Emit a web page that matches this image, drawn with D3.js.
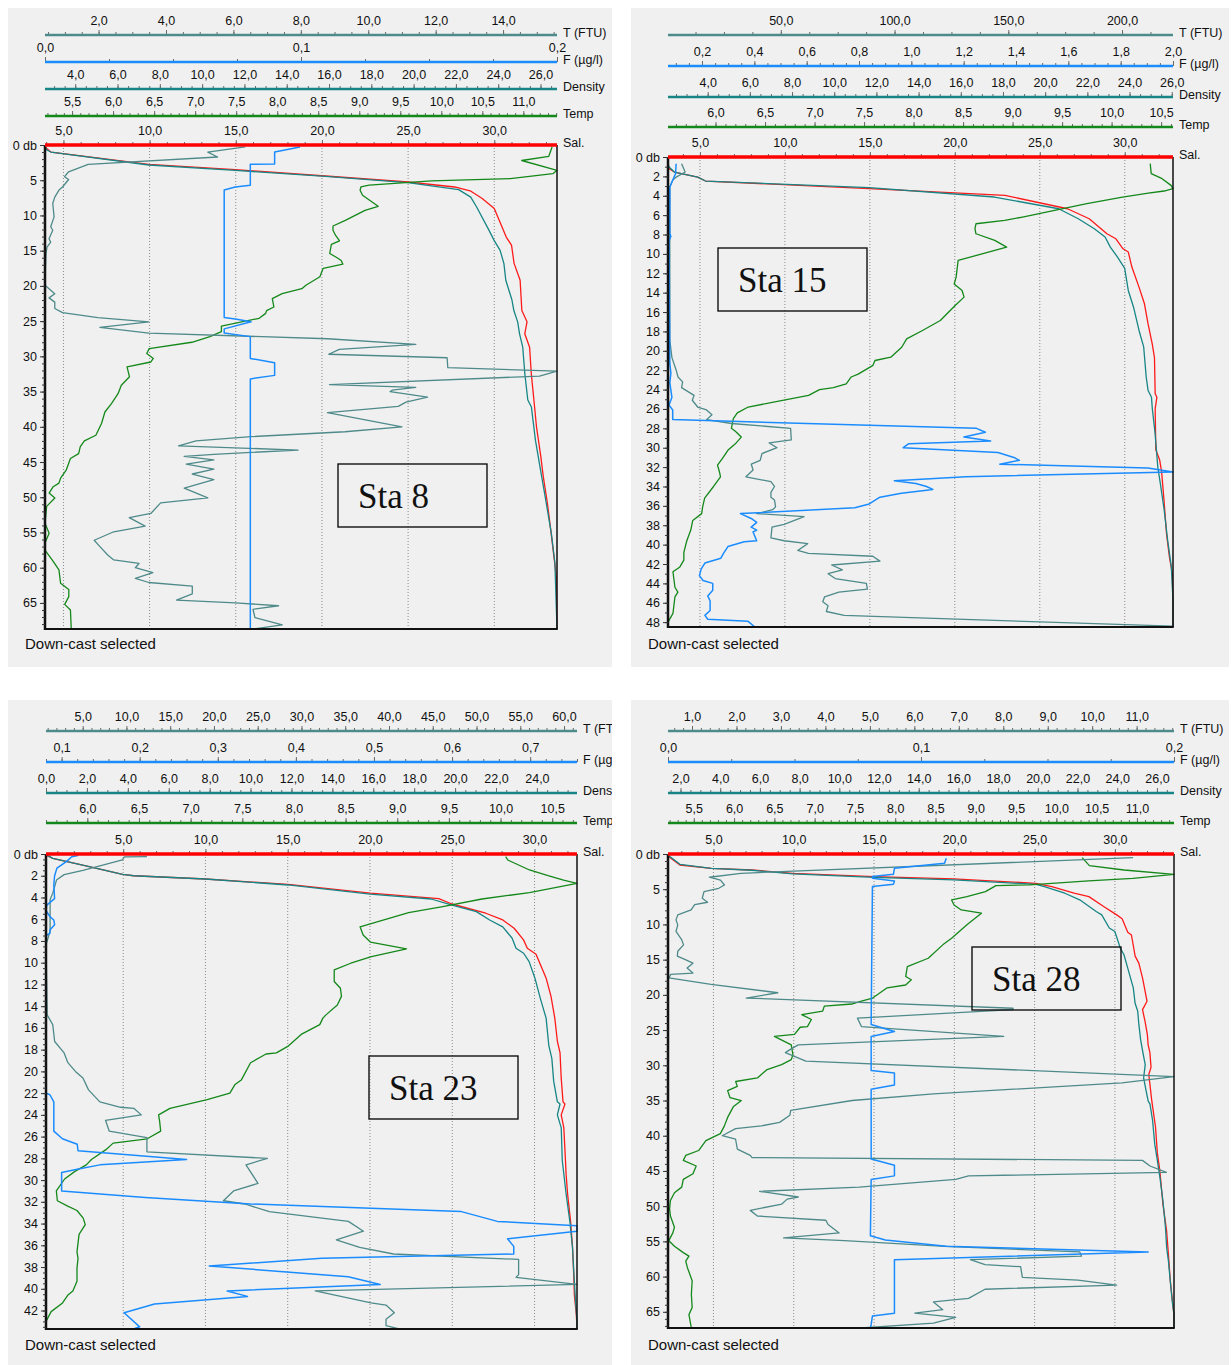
<!DOCTYPE html>
<html><head><meta charset="utf-8">
<script src="https://cdn.jsdelivr.net/npm/d3@7"></script>
<style>
body{margin:0;background:#fff;}
svg{display:block;font-family:"Liberation Sans",Arial,sans-serif;}
</style>
</head><body>
<svg id="chart" width="1231" height="1365"></svg>
<script>
// ---------------- DATA ----------------
const stations = ["Sta 8", "Sta 15", "Sta 23", "Sta 28"];
const axisNames = ["T (FTU)", "F (µg/l)", "Density", "Temp", "Sal."];
const footerText = "Down-cast selected";

// axis ranges per station: [min, max, label step, minor step] for T, F, Density, Temp, Sal
const sta8Axes  = [[0.41,15.6,2,0.5],[0,0.2,0.1,0.025],[2.57,26.78,2,0.5],[5.17,11.41,0.5,0.1],[3.93,33.64,5,1]];
const sta15Axes = [[0.4,222.4,50,12.5],[0.07,2.0,0.2,0.05],[2.12,26.06,2,0.5],[5.52,10.62,0.5,0.1],[3.12,32.84,5,1]];
const sta23Axes = [[0.81,61.48,5,1],[0.08,0.76,0.1,0.02],[0,25.96,2,0.5],[5.60,10.74,0.5,0.1],[0.31,32.58,5,1]];
const sta28Axes = [[0.46,11.84,1,0.2],[0,0.2,0.1,0.025],[1.37,26.86,2,0.5],[5.18,11.46,0.5,0.1],[2.17,33.68,5,1]];
// depth axis: [max depth (db), label step, minor step]
const sta8Depth  = [68.7, 5, 1];
const sta15Depth = [48.5, 2, 1];
const sta23Depth = [43.7, 2, 0.5];
const sta28Depth = [67.3, 5, 1];

// profiles: [depth db, value]
const sta8Sal = [[0.3,3.95],[1.0,4.27],[2.74,9.96],[3.5,14.98],[4.4,20.2],[5.25,25.0],[5.96,27.7],[6.5,28.6],[7.6,29.3],[9.0,30.0],[13.1,30.7],[14.2,31.0],[16.8,31.15],[19.2,31.5],[23.5,31.6],[25.1,31.9],[26.8,31.77],[28.7,32.05],[32.5,32.15],[36.2,32.3],[40.0,32.45],[44.2,32.7],[47.0,32.84],[50.8,33.08],[55.1,33.3],[58.4,33.46],[61.2,33.6],[68.7,33.64]];
const sta8Dens = [[0.3,2.6],[0.66,2.63],[1.0,2.85],[2.84,7.48],[3.6,11.57],[4.45,15.84],[5.35,19.73],[6.34,22.13],[7.4,22.7],[8.8,22.98],[11.9,23.53],[13.5,23.8],[14.95,24.09],[16.84,24.27],[19.2,24.36],[22.0,24.65],[23.5,24.74],[25.1,24.92],[26.8,25.01],[28.7,25.16],[32.5,25.26],[36.2,25.4],[37.2,25.57],[41.9,25.76],[46.1,26.0],[49.9,26.22],[55.1,26.51],[59.3,26.68],[68.7,26.78]];
const sta8Temp = [[0.28,11.35],[1.6,11.31],[2.2,10.98],[3.6,11.41],[4.07,11.36],[4.78,10.84],[5.1,9.88],[5.7,9.12],[5.96,9.02],[6.43,9.01],[7.14,9.04],[8.7,9.23],[9.27,9.07],[10.7,8.83],[11.5,8.68],[12.1,8.68],[12.8,8.71],[13.6,8.76],[14.1,8.66],[15.4,8.64],[16.0,8.73],[16.4,8.78],[16.9,8.80],[17.5,8.56],[18.7,8.52],[19.9,8.35],[20.4,8.30],[21.1,8.06],[21.8,7.94],[23.0,7.96],[23.5,7.87],[23.9,7.86],[24.6,7.78],[25.7,7.32],[26.5,7.32],[27.2,7.18],[28.0,6.96],[28.9,6.44],[29.6,6.41],[30.3,6.49],[30.8,6.46],[31.5,6.17],[32.9,6.20],[34.1,6.10],[35.3,6.06],[36.7,5.98],[37.9,5.90],[39.5,5.86],[41.2,5.79],[42.0,5.65],[42.8,5.60],[43.8,5.58],[44.5,5.48],[46.1,5.43],[47.3,5.36],[48.0,5.34],[48.5,5.27],[49.4,5.22],[50.1,5.29],[51.3,5.19],[53.7,5.17],[55.1,5.22],[56.5,5.17],[57.5,5.17],[59.1,5.27],[60.3,5.34],[62.2,5.36],[63.1,5.46],[64.1,5.46],[65.2,5.41],[66.0,5.48],[68.7,5.49]];
const sta8Fluo = [[0.28,0.0996],[1.0,0.0897],[2.7,0.0897],[2.75,0.0802],[5.7,0.0802],[5.96,0.0743],[6.4,0.070],[24.5,0.070],[24.7,0.0743],[25.1,0.0805],[26.1,0.070],[26.7,0.070],[27.2,0.0802],[30.3,0.0802],[30.9,0.0897],[32.7,0.0897],[33.2,0.0802],[68.7,0.0802]];
const sta8Turb = [[0.28,6.35],[1.0,5.24],[1.7,5.53],[2.74,1.69],[3.8,1.11],[4.5,0.99],[4.9,1.11],[5.96,0.93],[6.43,0.82],[7.4,0.70],[8.3,0.64],[10.2,0.68],[11.6,0.58],[12.1,0.64],[13.3,0.53],[13.8,0.58],[14.5,0.47],[15.4,0.44],[19.2,0.41],[19.9,0.41],[20.4,0.53],[21.1,0.70],[21.7,0.53],[22.3,0.70],[23.2,0.70],[23.8,0.93],[24.5,1.98],[25.1,3.49],[25.9,2.04],[26.7,3.49],[27.5,8.79],[28.3,11.41],[29.0,9.14],[29.7,8.83],[30.2,12.34],[31.6,12.36],[32.1,15.6],[32.8,15.08],[34.0,8.85],[34.4,11.41],[34.8,10.71],[35.0,10.65],[35.8,11.76],[36.5,11.12],[37.1,10.89],[38.0,8.79],[40.0,11.0],[40.7,9.31],[41.4,6.52],[42.0,4.89],[42.7,4.37],[43.3,7.92],[43.9,5.42],[44.2,4.54],[44.7,5.42],[45.3,4.60],[46.0,5.42],[46.7,4.78],[47.5,5.42],[48.7,4.54],[50.1,5.24],[50.8,3.84],[52.3,3.55],[52.9,2.91],[54.1,3.38],[54.9,2.45],[56.1,1.87],[57.0,2.04],[58.2,2.27],[58.9,2.45],[59.4,3.20],[60.0,3.09],[60.7,3.61],[61.5,3.09],[62.1,3.49],[62.6,4.78],[63.7,4.78],[64.6,4.31],[65.0,6.06],[65.4,7.34],[65.9,6.58],[67.1,6.64],[68.1,7.45],[68.7,6.58]];

const sta15Sal = [[0.9,3.15],[1.2,3.18],[1.55,3.50],[2.07,4.86],[2.48,5.33],[3.27,14.96],[3.96,22.95],[5.34,26.63],[6.37,27.91],[7.92,28.95],[8.44,29.48],[9.47,29.90],[9.81,30.21],[11.36,30.42],[13.43,30.84],[15.15,31.16],[17.2,31.37],[19.3,31.62],[20.7,31.75],[24.4,31.79],[24.8,31.89],[26.0,31.79],[30.2,31.83],[31.3,32.06],[32.5,32.17],[35.4,32.31],[38.9,32.46],[41.3,32.63],[43.0,32.80],[45.8,32.84],[48.5,32.84]];
const sta15Dens = [[0.9,2.15],[1.03,2.17],[1.55,2.42],[2.07,3.53],[2.48,3.90],[3.17,11.65],[4.13,17.59],[5.34,20.64],[6.37,21.57],[7.4,22.33],[8.26,22.84],[9.3,23.09],[10.33,23.43],[11.5,23.77],[13.77,23.94],[15.5,24.19],[17.9,24.45],[19.6,24.67],[22.7,24.79],[24.1,24.88],[24.8,25.04],[26.0,25.08],[28.5,25.21],[32.0,25.34],[33.7,25.46],[36.4,25.64],[39.6,25.81],[42.3,25.98],[45.8,26.06],[48.5,26.06]];
const sta15Temp = [[0.69,10.39],[1.72,10.40],[2.24,10.51],[2.93,10.60],[3.27,10.62],[3.51,10.53],[3.72,10.37],[4.13,10.11],[4.82,9.75],[5.44,9.46],[6.2,9.10],[6.54,8.92],[6.89,8.63],[7.4,8.62],[7.92,8.63],[8.6,8.82],[9.3,8.94],[9.64,8.82],[10.67,8.45],[12.4,8.43],[13.1,8.41],[13.77,8.49],[14.46,8.51],[15.32,8.42],[16.87,8.27],[17.9,8.09],[18.77,7.93],[19.63,7.88],[20.66,7.77],[21.0,7.61],[21.5,7.59],[22.4,7.44],[22.7,7.37],[23.4,7.32],[23.8,7.19],[24.0,7.05],[24.6,6.94],[25.1,6.69],[25.8,6.33],[26.4,6.22],[27.0,6.18],[28.0,6.16],[28.3,6.20],[28.9,6.26],[29.6,6.20],[30.2,6.13],[31.1,6.07],[31.8,6.02],[32.5,6.04],[33.0,6.05],[34.0,5.98],[35.2,5.89],[36.1,5.87],[36.8,5.86],[37.5,5.77],[38.5,5.75],[39.6,5.71],[40.8,5.68],[41.6,5.68],[42.3,5.64],[42.8,5.57],[44.4,5.59],[44.9,5.62],[45.4,5.59],[47.1,5.57],[48.0,5.52],[48.5,5.52]];
const sta15Fluo = [[0.69,0.101],[1.72,0.099],[2.4,0.088],[3.1,0.077],[7.9,0.077],[8.2,0.081],[8.6,0.074],[21.3,0.077],[22.3,0.081],[23.3,0.077],[24.8,0.085],[25.6,0.074],[26.1,0.088],[27.1,0.088],[28.0,1.249],[28.4,1.283],[28.9,1.201],[29.3,1.303],[29.6,0.989],[30.0,0.969],[30.5,1.331],[31.0,1.392],[31.3,1.413],[31.7,1.338],[32.1,1.904],[32.5,2.0],[33.0,1.208],[33.4,0.935],[33.7,1.017],[34.0,1.058],[34.3,1.082],[34.7,0.962],[35.1,0.880],[35.8,0.839],[36.2,0.784],[36.8,0.347],[37.3,0.388],[37.7,0.409],[38.2,0.388],[38.5,0.409],[38.7,0.395],[39.6,0.409],[39.7,0.361],[40.2,0.299],[40.9,0.282],[41.4,0.272],[41.9,0.211],[42.5,0.197],[43.2,0.190],[43.7,0.204],[44.0,0.241],[44.7,0.241],[45.3,0.222],[45.8,0.231],[46.8,0.231],[47.3,0.211],[47.7,0.222],[47.9,0.375],[48.5,0.402]];
const sta15Turb = [[0.69,6.37],[1.55,7.94],[2.07,4.01],[2.4,2.44],[3.1,1.19],[18.9,1.19],[20.7,2.13],[22.0,4.01],[22.7,4.80],[23.2,6.84],[23.8,6.37],[24.6,11.87],[25.1,11.08],[25.8,13.44],[26.1,17.37],[26.6,19.72],[27.1,17.37],[27.5,28.37],[28.0,54.29],[29.2,54.60],[29.5,44.86],[30.0,48.32],[30.6,41.72],[31.3,40.93],[31.7,37.01],[32.3,37.79],[33.0,34.65],[33.5,45.65],[34.0,47.22],[34.6,45.65],[35.1,45.65],[35.4,47.22],[36.1,47.69],[36.4,46.43],[36.8,39.36],[37.1,60.26],[37.9,51.46],[38.2,46.12],[39.3,45.65],[39.6,51.46],[39.9,61.83],[40.6,57.43],[40.9,62.14],[41.2,90.42],[41.7,93.57],[42.1,72.36],[42.6,77.07],[43.0,70.79],[43.5,73.93],[44.0,87.60],[44.6,88.07],[44.9,75.50],[45.4,69.21],[45.9,68.43],[46.3,70.79],[46.9,70.00],[47.3,77.86],[47.8,140.7],[48.4,222.4],[48.5,222.4]];

const sta23Sal = [[0.15,0.38],[0.4,0.72],[1.07,2.67],[1.87,4.96],[2.0,5.64],[2.3,9.99],[2.8,15.03],[3.6,20.02],[4.1,24.18],[4.6,24.98],[5.45,27.04],[6.07,28.07],[6.83,28.76],[7.9,29.33],[8.67,29.56],[9.22,30.09],[10.2,30.36],[11.4,30.70],[13.1,31.00],[15.1,31.23],[17.25,31.39],[18.3,31.55],[20.6,31.62],[22.8,31.73],[23.0,31.85],[24.0,31.62],[25.2,31.78],[27.3,31.85],[29.5,31.92],[31.3,32.01],[33.8,32.19],[36.2,32.31],[38.7,32.38],[40.6,32.42],[42.4,32.54],[43.7,32.58]];
const sta23Dens = [[0.1,0.055],[0.4,0.33],[1.07,1.90],[1.87,3.74],[2.0,4.29],[2.3,7.79],[2.85,11.84],[3.7,15.85],[4.14,18.83],[4.7,19.85],[5.3,21.04],[6.07,21.69],[6.7,22.33],[7.75,22.79],[8.67,22.98],[9.13,23.35],[9.9,23.62],[11.4,23.90],[13.3,24.17],[15.1,24.45],[17.6,24.58],[18.8,24.73],[20.9,24.82],[22.8,25.00],[23.0,25.13],[24.0,25.00],[25.2,25.19],[28.2,25.24],[31.3,25.43],[33.8,25.61],[36.2,25.74],[39.3,25.83],[41.2,25.89],[43.0,25.96],[43.7,25.96]];
const sta23Temp = [[0.25,10.05],[0.55,10.07],[1.47,10.28],[2.0,10.46],[2.4,10.61],[2.7,10.74],[3.55,10.28],[4.14,9.82],[4.84,9.44],[5.4,9.11],[6.7,8.64],[7.45,8.67],[8.1,8.74],[8.73,9.09],[9.44,8.75],[10.05,8.55],[10.66,8.39],[11.73,8.39],[12.35,8.45],[13.1,8.46],[13.9,8.42],[14.8,8.31],[15.1,8.28],[15.7,8.25],[16.6,8.07],[17.7,7.94],[18.3,7.83],[18.4,7.73],[19.2,7.58],[20.8,7.49],[21.2,7.43],[22.0,7.38],[22.6,7.16],[23.4,6.80],[24.0,6.69],[24.6,6.70],[25.5,6.71],[26.2,6.58],[26.6,6.25],[27.2,6.18],[28.1,6.04],[28.6,5.99],[29.2,5.88],[29.9,5.78],[31.0,5.70],[31.9,5.71],[32.4,5.81],[32.8,5.90],[33.5,5.96],[34.1,5.98],[35.0,5.92],[36.6,5.90],[37.2,5.91],[38.1,5.90],[39.3,5.90],[40.2,5.86],[40.6,5.81],[41.3,5.76],[42.1,5.65],[43.0,5.60],[43.7,5.60]];
const sta23Fluo = [[0.15,0.121],[0.25,0.113],[0.7,0.106],[1.3,0.094],[2.0,0.091],[2.85,0.090],[4.1,0.091],[4.7,0.081],[5.2,0.080],[5.76,0.085],[6.07,0.090],[6.5,0.091],[7.0,0.085],[7.3,0.085],[7.5,0.080],[22.0,0.080],[22.15,0.085],[22.8,0.090],[25.5,0.090],[26.2,0.101],[26.7,0.120],[27.3,0.121],[27.6,0.173],[28.1,0.260],[28.6,0.149],[29.0,0.120],[29.3,0.100],[31.0,0.100],[31.6,0.207],[32.2,0.342],[32.6,0.496],[32.9,0.612],[33.8,0.658],[34.2,0.760],[34.7,0.760],[35.4,0.671],[36.1,0.679],[36.8,0.679],[37.2,0.433],[37.9,0.289],[38.9,0.467],[39.6,0.508],[40.2,0.312],[40.7,0.338],[41.4,0.219],[42.2,0.180],[43.5,0.200],[43.7,0.192]];
const sta23Turb = [[0.25,12.34],[0.26,9.76],[0.55,9.54],[1.5,5.03],[1.9,2.88],[2.4,2.01],[3.0,1.80],[3.6,1.58],[4.2,1.28],[7.1,1.28],[8.0,0.94],[8.3,0.81],[14.8,0.94],[15.7,1.58],[17.25,1.80],[18.3,2.88],[19.2,3.31],[20.0,4.17],[20.6,5.03],[21.7,5.67],[22.8,6.96],[23.3,9.33],[23.4,10.84],[24.0,11.70],[24.5,7.61],[25.5,8.04],[26.1,12.34],[27.4,12.34],[28.0,26.11],[28.6,23.66],[30.3,25.03],[31.0,22.24],[31.9,21.08],[32.2,23.53],[32.9,26.33],[33.8,35.36],[34.7,37.08],[35.5,33.98],[36.2,36.65],[36.8,40.52],[37.3,54.81],[38.7,54.81],[38.95,54.51],[39.6,61.48],[40.2,31.57],[41.3,37.94],[41.5,39.66],[42.2,40.61],[42.8,39.66],[43.4,39.66],[43.7,41.17]];

const sta28Sal = [[0.38,2.22],[1.56,2.91],[2.03,4.87],[2.27,7.40],[2.74,9.94],[3.2,15.01],[3.54,19.96],[4.16,25.08],[4.63,26.07],[5.57,27.46],[6.05,28.38],[7.46,29.30],[8.64,30.11],[9.2,30.45],[11.1,30.80],[11.5,31.03],[14.5,31.26],[15.5,31.49],[17.6,31.72],[19.0,31.84],[20.9,32.00],[22.1,31.72],[23.8,31.88],[25.6,32.02],[27.1,32.07],[28.2,32.18],[30.3,32.25],[31.3,32.11],[32.7,32.18],[35.1,32.30],[38.8,32.53],[42.4,32.64],[45.0,32.80],[49.7,32.99],[53.5,33.22],[56.8,33.33],[60.6,33.45],[63.0,33.56],[65.4,33.68],[67.3,33.68]];
const sta28Dens = [[0.24,1.41],[1.46,1.97],[2.03,3.55],[2.31,5.60],[2.83,7.65],[3.31,11.76],[3.68,15.77],[4.3,19.91],[4.63,20.33],[5.57,21.36],[6.5,22.11],[8.17,22.94],[8.64,23.22],[10.5,23.60],[11.0,23.88],[13.4,24.16],[14.3,24.34],[16.2,24.53],[19.0,24.81],[21.2,24.90],[22.3,25.03],[24.2,25.09],[26.4,25.18],[28.0,25.28],[29.9,25.41],[31.8,25.33],[33.7,25.46],[35.1,25.56],[35.5,25.65],[37.8,25.78],[41.2,25.89],[43.5,26.02],[45.9,26.15],[49.2,26.30],[53.0,26.43],[55.9,26.49],[57.8,26.58],[60.6,26.67],[63.5,26.77],[65.4,26.86],[67.3,26.86]];
const sta28Temp = [[0.52,10.32],[1.65,10.41],[2.27,10.84],[2.88,11.46],[3.45,10.95],[3.83,10.40],[4.39,9.67],[4.49,9.25],[5.34,9.12],[6.05,8.89],[6.52,8.70],[7.23,8.73],[7.94,8.82],[8.41,9.07],[10.06,8.89],[11.95,8.70],[12.9,8.59],[14.8,8.41],[16.0,8.15],[17.4,8.13],[17.86,8.20],[18.6,8.13],[19.0,7.90],[20.45,7.72],[20.9,7.58],[21.3,7.46],[21.6,7.12],[22.3,7.10],[22.8,6.84],[23.5,6.96],[24.5,6.91],[24.6,6.82],[25.6,6.75],[25.9,6.50],[27.1,6.71],[28.5,6.73],[29.2,6.71],[29.9,6.59],[30.6,6.41],[31.8,6.29],[32.3,6.02],[33.0,6.04],[33.6,5.92],[34.6,5.95],[35.0,6.09],[35.9,5.99],[37.4,5.92],[38.6,5.88],[39.7,5.83],[40.7,5.65],[42.1,5.56],[42.8,5.40],[43.5,5.37],[44.3,5.53],[45.4,5.49],[46.2,5.37],[47.3,5.35],[48.1,5.26],[49.2,5.21],[50.4,5.20],[51.4,5.21],[53.0,5.26],[53.8,5.24],[54.9,5.19],[55.7,5.26],[56.6,5.37],[57.1,5.44],[57.8,5.40],[58.7,5.42],[60.6,5.48],[62.5,5.47],[64.4,5.48],[65.4,5.44],[67.3,5.47]];
const sta28Fluo = [[0.61,0.110],[1.32,0.1093],[2.03,0.0895],[2.88,0.0891],[3.2,0.0808],[3.45,0.0808],[3.83,0.0895],[4.3,0.0891],[4.63,0.0808],[24.2,0.0803],[25.2,0.0895],[25.9,0.0803],[30.75,0.0803],[31.1,0.0895],[32.8,0.0895],[33.4,0.0803],[43.3,0.0803],[44.2,0.0895],[45.7,0.0895],[46.2,0.0803],[54.2,0.0800],[54.8,0.0859],[55.7,0.110],[56.5,0.1898],[57.6,0.0895],[65.2,0.0895],[65.6,0.0808],[66.8,0.0803],[67.3,0.0800]];
const sta28Turb = [[0.52,10.92],[2.74,2.10],[3.3,1.39],[3.7,1.64],[4.4,1.73],[4.87,1.60],[5.34,1.27],[6.28,1.23],[6.85,1.35],[7.2,1.06],[7.94,0.98],[8.64,0.68],[9.35,0.64],[10.06,0.68],[11.0,0.64],[12.2,0.77],[12.9,0.81],[13.8,0.68],[14.5,0.67],[15.0,0.85],[15.5,1.02],[16.2,0.89],[16.9,1.02],[17.1,0.52],[17.6,0.48],[18.5,1.43],[19.7,2.93],[20.45,2.22],[21.9,8.22],[22.1,8.22],[23.3,4.72],[24.5,4.81],[25.9,8.01],[27.1,3.39],[27.7,3.22],[28.2,3.10],[29.4,3.56],[31.6,11.84],[32.5,10.67],[34.05,6.43],[35.0,4.60],[36.4,3.22],[37.1,3.20],[38.1,2.97],[38.6,2.56],[39.0,1.98],[40.0,1.68],[40.5,1.98],[41.9,2.02],[42.8,2.31],[43.1,2.35],[43.5,11.13],[44.3,11.30],[45.2,11.67],[45.7,7.22],[46.2,6.93],[47.3,4.76],[47.9,2.52],[48.7,3.39],[49.0,3.14],[49.7,3.02],[50.6,2.31],[51.4,2.47],[52.0,4.01],[52.6,4.06],[53.8,4.31],[54.5,3.06],[54.9,4.43],[55.7,6.68],[56.5,9.72],[57.1,9.76],[57.6,7.26],[58.3,7.59],[58.6,8.39],[60.1,8.43],[60.5,9.68],[61.2,10.55],[61.8,7.59],[63.1,7.22],[63.6,6.43],[64.7,6.64],[65.2,6.01],[65.8,6.93],[66.6,6.43],[67.3,4.81]];

// ---------------- LAYOUT / STYLE ----------------
const axesList  = [sta8Axes, sta15Axes, sta23Axes, sta28Axes];
const depthList = [sta8Depth, sta15Depth, sta23Depth, sta28Depth];
const profiles = [
  [sta8Turb, sta8Fluo, sta8Dens, sta8Temp, sta8Sal],
  [sta15Turb, sta15Fluo, sta15Dens, sta15Temp, sta15Sal],
  [sta23Turb, sta23Fluo, sta23Dens, sta23Temp, sta23Sal],
  [sta28Turb, sta28Fluo, sta28Dens, sta28Temp, sta28Sal]
];
const layout = [
  {bg:[8,8,604,659],   plot:[45,145,557,629],   ay:[35,62,89,116,145],     box:[338,464], cast:[25,649]},
  {bg:[631,8,598,659], plot:[668,157,1173,627], ay:[35,66,97,127,157],     box:[718,248], cast:[648,649]},
  {bg:[8,700,604,665], plot:[46,854,577,1329],  ay:[731,762,793,823,854],  box:[369,1056], cast:[25,1350]},
  {bg:[631,700,598,665], plot:[668,854,1174,1328], ay:[731,762,793,823,854], box:[972,947], cast:[648,1350]}
];
const colors = ["#4f8a8a", "#1a8cff", "#178585", "#14881a", "#ff1a1a"];
const axisColors = ["#4f8a8a", "#1a8cff", "#178585", "#14881a", "#ff0000"];
const lineWidths = [1.3, 1.5, 1.3, 1.3, 1.3];
const drawOrder = [4, 2, 3, 0, 1];

const svg = d3.select("#chart");
const defs = svg.append("defs");

function ticksIn(min, max, step) {
  const out = [];
  const k0 = Math.ceil(min / step - 1e-6), k1 = Math.floor(max / step + 1e-6);
  for (let k = k0; k <= k1; k++) out.push(+(k * step).toFixed(6) + 0);
  return out;
}
const fmt = v => d3.format(".1f")(v).replace(".", ",");

layout.forEach((lay, i) => {
  const [L, T, R, B] = lay.plot;
  const axes = axesList[i];
  const dep = depthList[i];

  defs.append("clipPath").attr("id", "pc" + i).append("rect")
    .attr("x", lay.bg[0]).attr("y", lay.bg[1]).attr("width", lay.bg[2]).attr("height", lay.bg[3]);
  defs.append("clipPath").attr("id", "pl" + i).append("rect")
    .attr("x", L - 1).attr("y", T).attr("width", R - L + 2).attr("height", B - T);

  const g = svg.append("g").attr("clip-path", `url(#pc${i})`);
  g.append("rect").attr("x", lay.bg[0]).attr("y", lay.bg[1])
    .attr("width", lay.bg[2]).attr("height", lay.bg[3]).attr("fill", "#f0f0f0");

  const xs = axes.map(a => d3.scaleLinear().domain([a[0], a[1]]).range([L, R]));
  const y = d3.scaleLinear().domain([0, dep[0]]).range([T, B]);

  // dotted grid at salinity labels
  const salTicks = ticksIn(axes[4][0], axes[4][1], axes[4][2]);
  g.append("g").selectAll("line").data(salTicks).join("line")
    .attr("x1", d => xs[4](d)).attr("x2", d => xs[4](d))
    .attr("y1", T).attr("y2", B)
    .attr("stroke", "#8a8a8a").attr("stroke-width", 1).attr("stroke-dasharray", "1,2");

  // profiles
  const pg = g.append("g").attr("clip-path", `url(#pl${i})`);
  drawOrder.forEach(k => {
    const line = d3.line().x(d => xs[k](d[1])).y(d => y(d[0]));
    pg.append("path").datum(profiles[i][k]).attr("d", line)
      .attr("fill", "none").attr("stroke", colors[k]).attr("stroke-width", lineWidths[k])
      .attr("stroke-linejoin", "round");
  });

  // frame
  g.append("line").attr("x1", R).attr("x2", R).attr("y1", T).attr("y2", B).attr("stroke", "#111").attr("stroke-width", 1.5);
  g.append("line").attr("x1", L).attr("x2", R + 0.75).attr("y1", B).attr("y2", B).attr("stroke", "#111").attr("stroke-width", 2);
  g.append("line").attr("x1", L).attr("x2", L).attr("y1", T).attr("y2", B + 1).attr("stroke", "#111").attr("stroke-width", 2.5);

  // top axes
  axes.forEach((a, k) => {
    const ay = lay.ay[k];
    const major = ticksIn(a[0], a[1], a[2]);
    const minor = ticksIn(a[0], a[1], a[3]);
    const ag = g.append("g").attr("transform", `translate(0,${ay})`);
    ag.call(d3.axisTop(xs[k]).tickValues(minor).tickFormat("").tickSize(3).tickSizeOuter(0));
    ag.call(g2 => g2.select(".domain").remove());
    const mg = g.append("g").attr("transform", `translate(0,${ay})`);
    mg.call(d3.axisTop(xs[k]).tickValues(major).tickFormat(fmt).tickSize(5).tickPadding(5).tickSizeOuter(0));
    mg.select(".domain").remove();
    [ag, mg].forEach(s => s.selectAll(".tick line").attr("stroke", "#6a6a6a"));
    mg.selectAll(".tick text").attr("font-size", 12.5).attr("fill", "#111")
      .attr("font-family", "'Liberation Sans', Arial, sans-serif");
    g.append("line").attr("x1", L).attr("x2", R).attr("y1", ay).attr("y2", ay)
      .attr("stroke", axisColors[k]).attr("stroke-width", k === 4 ? 3.5 : 2.6);
    g.append("text").attr("x", R + 6).attr("y", ay + 2).text(axisNames[k])
      .attr("font-size", 12.5).attr("fill", "#111");
  });

  // depth axis
  const dMajor = ticksIn(0, dep[0], dep[1]);
  const dMinor = ticksIn(0, dep[0], dep[2]);
  const dg1 = g.append("g").attr("transform", `translate(${L},0)`);
  dg1.call(d3.axisLeft(y).tickValues(dMinor).tickFormat("").tickSize(3).tickSizeOuter(0));
  dg1.select(".domain").remove();
  const dg2 = g.append("g").attr("transform", `translate(${L},0)`);
  dg2.call(d3.axisLeft(y).tickValues(dMajor).tickFormat(d => d === 0 ? "0 db" : d3.format("d")(d))
    .tickSize(5).tickPadding(3).tickSizeOuter(0));
  dg2.select(".domain").remove();
  [dg1, dg2].forEach(s => s.selectAll(".tick line").attr("stroke", "#333"));
  dg2.selectAll(".tick text").attr("font-size", 12.5).attr("fill", "#111")
    .attr("font-family", "'Liberation Sans', Arial, sans-serif");

  // station box
  g.append("rect").attr("x", lay.box[0]).attr("y", lay.box[1]).attr("width", 149).attr("height", 63)
    .attr("fill", "none").attr("stroke", "#111").attr("stroke-width", 1.4);
  g.append("text").attr("x", lay.box[0] + 20).attr("y", lay.box[1] + 44).text(stations[i])
    .attr("font-family", "'Liberation Serif', 'Times New Roman', serif").attr("font-size", 35).attr("fill", "#111");

  g.append("text").attr("x", lay.cast[0]).attr("y", lay.cast[1]).text(footerText)
    .attr("font-size", 15).attr("fill", "#111");
});
</script>
</body></html>
